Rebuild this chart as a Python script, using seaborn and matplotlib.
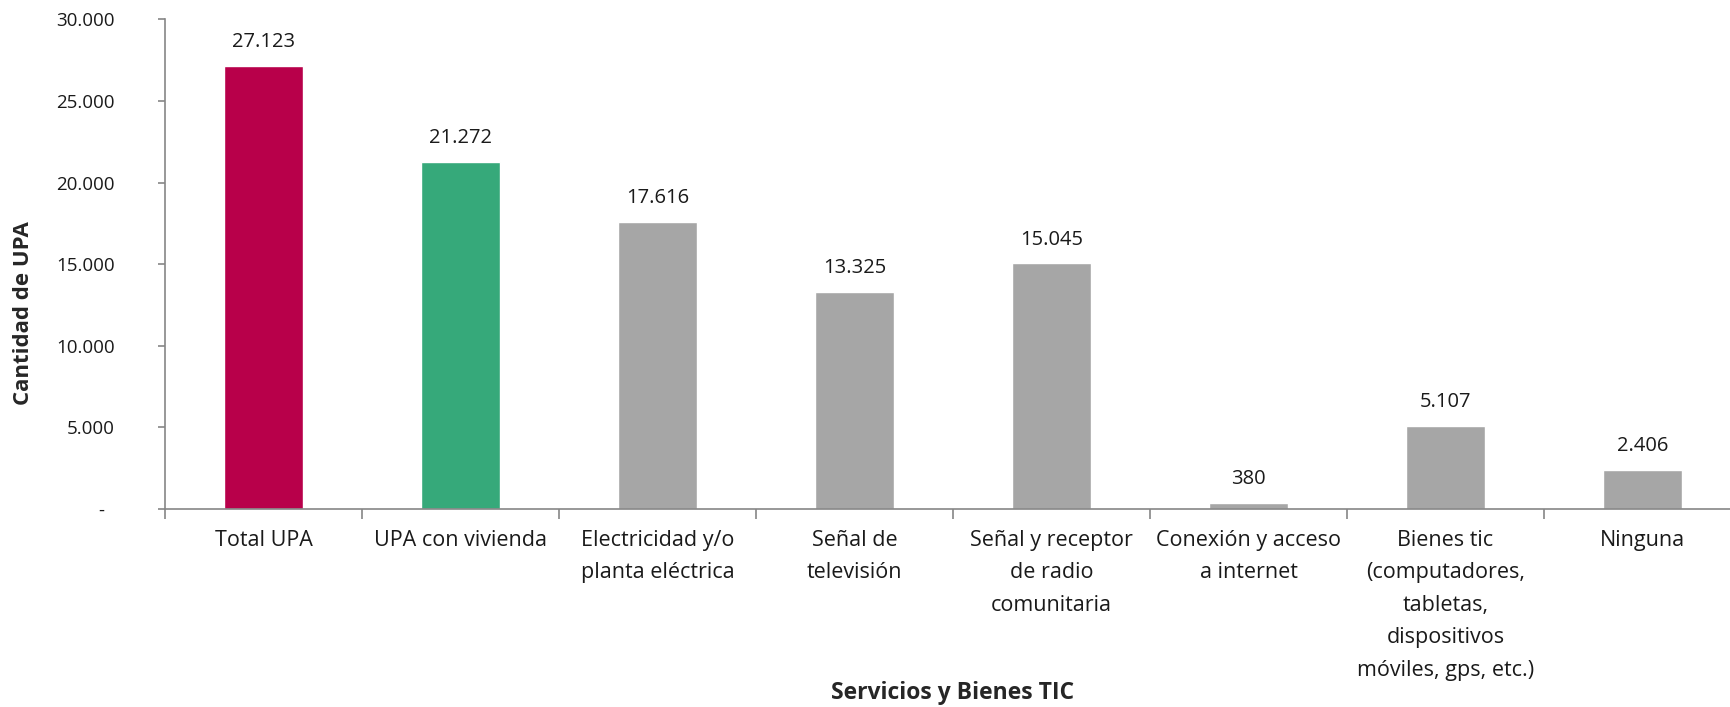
import pandas as pd
import matplotlib.pyplot as plt
import seaborn as sns

# datos
categorias = [
    "Total UPA",
    "UPA con vivienda",
    "Electricidad y/o\nplanta eléctrica",
    "Señal de\ntelevisión",
    "Señal y receptor\nde radio\ncomunitaria",
    "Conexión y acceso\na internet",
    "Bienes tic\n(computadores,\ntabletas,\ndispositivos\nmóviles, gps, etc.)",
    "Ninguna",
]
valores = [27123, 21272, 17616, 13325, 15045, 380, 5107, 2406]
colores = ["#B8004A", "#36A97A", "#A6A6A6", "#A6A6A6",
           "#A6A6A6", "#A6A6A6", "#A6A6A6", "#A6A6A6"]
y_ticks = [0, 5000, 10000, 15000, 20000, 25000, 30000]
y_tick_labels = ["-  ", "5.000", "10.000", "15.000", "20.000", "25.000", "30.000"]


def main():
    sns.set_style("white")
    plt.rcParams['font.family'] = ['Open Sans', 'DejaVu Sans']

    df = pd.DataFrame({"categoria": categorias, "valor": valores})

    fig = plt.figure(figsize=(17.31, 7.07), dpi=100)
    ax = fig.add_axes([0.0953, 0.2801, 0.9105, 0.6924])

    sns.barplot(data=df, x="categoria", y="valor", hue="categoria",
                palette=colores, legend=False, width=0.4, ax=ax,
                saturation=1, order=categorias, hue_order=categorias)

    ax.set_xlim(-0.5, len(categorias) - 0.5)
    ax.set_ylim(0, 30000)

    # etiquetas de datos
    for i, v in enumerate(valores):
        ax.annotate(f"{v:,}".replace(",", "."), (i, v), xytext=(0, 10),
                    textcoords="offset points", ha="center", va="bottom",
                    fontsize=14.5, color="#1a1a1a")

    # ejes
    for s in ["top", "right"]:
        ax.spines[s].set_visible(False)
    for s in ["left", "bottom"]:
        ax.spines[s].set_color("#868686")
        ax.spines[s].set_linewidth(1.2)

    ax.set_yticks(y_ticks)
    ax.set_yticklabels(y_tick_labels, fontsize=13.5, color="#1a1a1a")
    ax.tick_params(axis="y", direction="out", length=5, width=1.2,
                   color="#868686", pad=31, left=True)

    ax.set_xticks(range(len(categorias)))
    ax.set_xticklabels(categorias, fontsize=15.5, color="#1a1a1a",
                       linespacing=1.72)
    ax.tick_params(axis="x", which="major", length=0, pad=15)
    ax.set_xticks([i - 0.5 for i in range(len(categorias) + 1)], minor=True)
    ax.tick_params(axis="x", which="minor", direction="out", length=7,
                   width=1.2, color="#868686", bottom=True)

    ax.set_xlabel("Servicios y Bienes TIC", fontsize=16.5, fontweight="bold")
    ax.xaxis.set_label_coords(0.5, -0.376)
    ax.xaxis.label.set_va("center")
    ax.set_ylabel("Cantidad de UPA", fontsize=16, fontweight="bold")
    ax.yaxis.set_label_coords(-0.0895, 0.40)
    ax.yaxis.label.set_va("center")

    fig.savefig("out.png", dpi=100)
    plt.close(fig)


if __name__ == "__main__":
    main()
